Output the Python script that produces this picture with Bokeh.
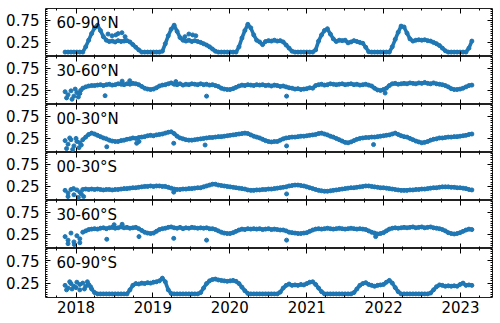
import pandas as pd
from bokeh.plotting import figure
from bokeh.layouts import column
from bokeh.models import (Range1d, FixedTicker, LinearAxis, DatetimeAxis, Label,
                          DatetimeTickFormatter)
from bokeh.embed import file_html
from bokeh.resources import INLINE

# ---------------- data ----------------
START = "2017-11-10"
STEP_DAYS = 14
REGIONS = ["60-90°N", "30-60°N", "00-30°N", "00-30°S", "30-60°S", "60-90°S"]

n60_90N = [0.03, 0.03, 0.03, 0.03, 0.03, 0.03, 0.03, 0.15, 0.30, 0.45, 0.58, 0.64, 0.52, 0.38, 0.30, 0.27, 0.28, 0.26, 0.29, 0.27,
           0.28, 0.29, 0.26, 0.20, 0.14, 0.08, 0.03, 0.03, 0.03, 0.03, 0.03, 0.03, 0.03, 0.05, 0.22, 0.40, 0.55, 0.64, 0.50, 0.36,
           0.30, 0.28, 0.30, 0.27, 0.29, 0.27, 0.25, 0.22, 0.19, 0.15, 0.10, 0.05, 0.03, 0.03, 0.03, 0.03, 0.03, 0.03, 0.03, 0.15,
           0.35, 0.52, 0.66, 0.58, 0.42, 0.30, 0.26, 0.20, 0.27, 0.29, 0.28, 0.30, 0.28, 0.29, 0.26, 0.19, 0.12, 0.05, 0.03, 0.03,
           0.03, 0.03, 0.03, 0.03, 0.03, 0.08, 0.28, 0.42, 0.52, 0.56, 0.44, 0.33, 0.27, 0.30, 0.29, 0.30, 0.24, 0.26, 0.29, 0.27,
           0.25, 0.23, 0.14, 0.04, 0.03, 0.03, 0.03, 0.03, 0.03, 0.03, 0.03, 0.15, 0.32, 0.48, 0.62, 0.60, 0.46, 0.33, 0.28, 0.30,
           0.31, 0.30, 0.31, 0.29, 0.28, 0.25, 0.22, 0.18, 0.12, 0.06, 0.03, 0.03, 0.03, 0.03, 0.03, 0.03, 0.03, 0.12, 0.28]
n30_60N = [0.22, 0.15, 0.24, 0.12, 0.20, 0.18, 0.30, 0.33, 0.35, 0.36, 0.36, 0.37, 0.38, 0.36, 0.38, 0.39, 0.37, 0.38, 0.40, 0.39,
           0.38, 0.40, 0.39, 0.41, 0.40, 0.38, 0.34, 0.30, 0.28, 0.27, 0.28, 0.31, 0.35, 0.37, 0.38, 0.40, 0.42, 0.39, 0.38, 0.40,
           0.37, 0.39, 0.38, 0.40, 0.39, 0.38, 0.40, 0.38, 0.39, 0.37, 0.38, 0.36, 0.34, 0.30, 0.28, 0.27, 0.27, 0.29, 0.32, 0.35,
           0.37, 0.36, 0.38, 0.37, 0.36, 0.38, 0.37, 0.38, 0.36, 0.37, 0.35, 0.37, 0.36, 0.34, 0.35, 0.33, 0.31, 0.30, 0.28, 0.29,
           0.27, 0.28, 0.29, 0.31, 0.30, 0.36, 0.38, 0.39, 0.37, 0.38, 0.40, 0.39, 0.38, 0.39, 0.40, 0.38, 0.39, 0.40, 0.38, 0.39,
           0.37, 0.38, 0.39, 0.37, 0.35, 0.30, 0.26, 0.25, 0.27, 0.30, 0.36, 0.40, 0.41, 0.39, 0.40, 0.41, 0.40, 0.42, 0.41, 0.40,
           0.42, 0.41, 0.43, 0.41, 0.40, 0.42, 0.40, 0.39, 0.38, 0.36, 0.33, 0.29, 0.27, 0.27, 0.28, 0.30, 0.33, 0.36, 0.37]
n00_30N = [0.20, 0.12, 0.22, 0.08, 0.18, 0.15, 0.22, 0.28, 0.34, 0.37, 0.35, 0.32, 0.29, 0.26, 0.24, 0.21, 0.19, 0.18, 0.18, 0.20,
           0.21, 0.23, 0.24, 0.26, 0.25, 0.27, 0.28, 0.29, 0.31, 0.32, 0.31, 0.33, 0.34, 0.35, 0.37, 0.39, 0.40, 0.36, 0.30, 0.26,
           0.24, 0.22, 0.21, 0.21, 0.22, 0.23, 0.24, 0.25, 0.26, 0.27, 0.27, 0.28, 0.29, 0.29, 0.30, 0.31, 0.32, 0.33, 0.34, 0.35,
           0.36, 0.37, 0.36, 0.33, 0.30, 0.28, 0.26, 0.23, 0.20, 0.18, 0.17, 0.18, 0.18, 0.21, 0.24, 0.26, 0.27, 0.28, 0.28, 0.29,
           0.30, 0.30, 0.31, 0.32, 0.33, 0.34, 0.36, 0.37, 0.35, 0.33, 0.30, 0.28, 0.25, 0.22, 0.19, 0.16, 0.15, 0.17, 0.20, 0.23,
           0.25, 0.26, 0.27, 0.27, 0.28, 0.28, 0.29, 0.30, 0.31, 0.32, 0.33, 0.35, 0.37, 0.34, 0.31, 0.29, 0.28, 0.25, 0.22, 0.19,
           0.17, 0.15, 0.16, 0.18, 0.21, 0.23, 0.24, 0.26, 0.26, 0.27, 0.28, 0.28, 0.29, 0.29, 0.30, 0.31, 0.32, 0.34, 0.35]
n00_30S = [0.16, 0.10, 0.18, 0.06, 0.17, 0.12, 0.18, 0.19, 0.18, 0.19, 0.18, 0.19, 0.18, 0.17, 0.18, 0.18, 0.17, 0.18, 0.18, 0.19,
           0.20, 0.20, 0.21, 0.22, 0.22, 0.23, 0.24, 0.25, 0.25, 0.26, 0.25, 0.26, 0.26, 0.25, 0.25, 0.23, 0.21, 0.19, 0.18, 0.18,
           0.19, 0.19, 0.20, 0.20, 0.21, 0.22, 0.22, 0.24, 0.26, 0.28, 0.30, 0.30, 0.28, 0.27, 0.26, 0.25, 0.24, 0.23, 0.22, 0.21,
           0.20, 0.19, 0.17, 0.16, 0.16, 0.17, 0.17, 0.18, 0.18, 0.19, 0.19, 0.20, 0.21, 0.22, 0.23, 0.24, 0.26, 0.27, 0.28, 0.28,
           0.27, 0.26, 0.24, 0.22, 0.20, 0.18, 0.16, 0.15, 0.14, 0.14, 0.15, 0.16, 0.17, 0.18, 0.19, 0.20, 0.21, 0.22, 0.22, 0.23,
           0.24, 0.25, 0.26, 0.26, 0.25, 0.24, 0.23, 0.22, 0.22, 0.21, 0.20, 0.19, 0.18, 0.17, 0.16, 0.16, 0.16, 0.17, 0.17, 0.18,
           0.18, 0.19, 0.19, 0.20, 0.21, 0.22, 0.22, 0.23, 0.24, 0.24, 0.24, 0.23, 0.23, 0.22, 0.22, 0.21, 0.20, 0.18, 0.17]
n30_60S = [0.20, 0.12, 0.28, 0.08, 0.22, 0.15, 0.30, 0.33, 0.36, 0.37, 0.38, 0.37, 0.39, 0.40, 0.38, 0.40, 0.41, 0.39, 0.40, 0.42,
           0.40, 0.41, 0.39, 0.40, 0.41, 0.38, 0.34, 0.30, 0.28, 0.27, 0.28, 0.32, 0.36, 0.38, 0.39, 0.41, 0.42, 0.40, 0.39, 0.41,
           0.38, 0.40, 0.39, 0.41, 0.40, 0.39, 0.40, 0.39, 0.40, 0.38, 0.38, 0.36, 0.33, 0.30, 0.28, 0.27, 0.27, 0.29, 0.32, 0.35,
           0.37, 0.36, 0.38, 0.37, 0.38, 0.37, 0.38, 0.36, 0.37, 0.38, 0.36, 0.37, 0.36, 0.35, 0.35, 0.33, 0.30, 0.29, 0.28, 0.27,
           0.27, 0.28, 0.29, 0.32, 0.35, 0.37, 0.38, 0.37, 0.38, 0.39, 0.38, 0.37, 0.38, 0.39, 0.38, 0.37, 0.38, 0.39, 0.38, 0.37,
           0.38, 0.37, 0.36, 0.33, 0.30, 0.28, 0.26, 0.27, 0.29, 0.33, 0.37, 0.39, 0.40, 0.39, 0.40, 0.41, 0.40, 0.41, 0.42, 0.40,
           0.41, 0.42, 0.40, 0.41, 0.42, 0.40, 0.39, 0.38, 0.36, 0.33, 0.29, 0.27, 0.26, 0.27, 0.29, 0.32, 0.35, 0.37, 0.36]
n60_90S = [0.20, 0.14, 0.24, 0.18, 0.27, 0.10, 0.25, 0.18, 0.22, 0.12, 0.04, 0.01, 0.01, 0.01, 0.01, 0.01, 0.01, 0.01, 0.01, 0.01,
           0.01, 0.01, 0.10, 0.20, 0.24, 0.23, 0.25, 0.24, 0.26, 0.25, 0.27, 0.28, 0.30, 0.36, 0.28, 0.10, 0.02, 0.01, 0.01, 0.01,
           0.01, 0.01, 0.01, 0.01, 0.01, 0.01, 0.04, 0.14, 0.24, 0.30, 0.33, 0.34, 0.32, 0.31, 0.30, 0.29, 0.30, 0.31, 0.29, 0.24,
           0.16, 0.08, 0.02, 0.01, 0.01, 0.01, 0.01, 0.01, 0.01, 0.01, 0.01, 0.01, 0.01, 0.05, 0.14, 0.20, 0.23, 0.20, 0.21, 0.20,
           0.22, 0.21, 0.24, 0.27, 0.28, 0.22, 0.14, 0.06, 0.01, 0.01, 0.01, 0.01, 0.01, 0.01, 0.01, 0.01, 0.01, 0.01, 0.04, 0.12,
           0.20, 0.24, 0.26, 0.22, 0.20, 0.18, 0.20, 0.21, 0.22, 0.27, 0.31, 0.25, 0.15, 0.06, 0.01, 0.01, 0.01, 0.01, 0.01, 0.01,
           0.01, 0.01, 0.01, 0.01, 0.03, 0.10, 0.17, 0.21, 0.20, 0.18, 0.19, 0.18, 0.19, 0.18, 0.22, 0.25, 0.20, 0.21, 0.20]
SERIES = [n60_90N, n30_60N, n00_30N, n00_30S, n30_60S, n60_90S]
# first index from which the band is continuous (earlier values are a scattered cluster)
BAND_FROM = [0, 6, 6, 6, 6, 9]

# isolated points off the main band
extra_dates = [
    ["2018-06-02", "2018-06-21", "2018-07-09", "2018-07-20", "2018-08-07", "2018-08-22",
     "2019-06-02", "2019-06-21", "2019-07-09", "2019-07-24"],
    ["2017-11-17", "2017-12-13", "2017-12-28", "2018-01-12", "2018-01-23", "2018-05-19",
     "2019-09-13", "2020-09-27", "2022-01-08", "2018-08-08", "2018-09-13", "2019-04-20"],
    ["2017-11-17", "2017-12-02", "2017-12-16", "2018-01-01", "2018-01-15", "2018-01-26",
     "2018-05-27", "2018-10-16", "2018-10-27", "2019-04-10", "2019-09-06", "2020-09-27", "2021-11-14"],
    ["2017-11-24", "2017-12-20", "2018-01-12", "2018-01-26", "2018-02-06", "2019-04-10", "2020-09-27"],
    ["2017-11-24", "2017-12-24", "2018-01-19", "2018-05-27", "2018-10-27", "2019-04-10",
     "2019-09-13", "2020-09-27", "2021-11-24", "2018-07-01", "2018-08-08"],
    ["2017-11-17", "2017-12-02", "2017-12-13", "2018-01-01", "2018-01-19", "2018-02-10",
     "2018-02-24", "2018-03-11"],
]
extra_values = [
    [0.44, 0.40, 0.42, 0.45, 0.47, 0.38, 0.38, 0.44, 0.42, 0.40],
    [0.08, 0.05, 0.28, 0.10, 0.25, 0.13, 0.12, 0.12, 0.19, 0.46, 0.47, 0.45],
    [0.02, 0.26, 0.00, 0.25, 0.04, 0.10, 0.06, 0.14, 0.18, 0.14, 0.10, 0.08, 0.11],
    [0.02, 0.20, 0.00, 0.08, 0.02, 0.12, 0.08],
    [0.04, 0.02, 0.06, 0.14, 0.20, 0.16, 0.12, 0.12, 0.20, 0.47, 0.48],
    [0.10, 0.28, 0.12, 0.15, 0.22, 0.12, 0.28, 0.17],
]

TICK_YEARS = [2018, 2019, 2020, 2021, 2022, 2023]
Y_TICKS = [0.25, 0.75]

# ---------------- figure ----------------
BLUE = "#1f77b4"
FONT = "DejaVu Sans"

dates = pd.date_range(START, periods=len(n60_90N), freq=f"{STEP_DAYS}D")


def ms(s):
    return pd.Timestamp(s).value // 10**6


x_major = [ms(f"{y}-01-01") for y in TICK_YEARS]
x_minor = [ms(d) for d in pd.date_range("2017-10-01", "2023-04-01", freq="QS")]
y_minor = [round(-0.05 + 0.05 * k, 2) for k in range(22)]

xr = Range1d(start=pd.Timestamp("2017-08-09"), end=pd.Timestamp("2023-06-02"))
fmt = DatetimeTickFormatter(years="%Y", months="%Y", days="%Y", hours="%Y",
                            minutes="%Y", seconds="%Y", milliseconds="%Y",
                            microseconds="%Y", minsec="%Y", hourmin="%Y")


def style_axis(ax, show_labels, standoff=6):
    ax.major_tick_in = 5
    ax.major_tick_out = 0
    ax.minor_tick_in = 2
    ax.minor_tick_out = 0
    ax.axis_line_color = None
    ax.major_tick_line_color = "black"
    ax.minor_tick_line_color = "black"
    ax.major_label_text_font = FONT
    if show_labels:
        ax.major_label_text_color = "black"
        ax.major_label_text_font_size = "15px"
        ax.major_label_standoff = standoff
    else:
        ax.major_label_text_color = None
        ax.major_label_text_font_size = "1px"
        ax.major_label_standoff = 0


PANEL_H = [48, 48, 48, 48, 48, 49]
TOP_PAD = 8
BOTTOM_H = 26
LEFT_B = 45
RIGHT_B = 8
figs = []
nP = len(SERIES)
for i, (name, vals) in enumerate(zip(REGIONS, SERIES)):
    last = i == nP - 1
    first = i == 0
    h = PANEL_H[i] + (BOTTOM_H if last else 0) + (TOP_PAD if first else 0)
    p = figure(width=500, height=h,
               x_axis_type="datetime",
               x_range=xr, y_range=Range1d(-0.07, 1.02),
               output_backend="svg", toolbar_location=None,
               min_border_left=LEFT_B, min_border_right=RIGHT_B,
               min_border_top=TOP_PAD if first else 0,
               min_border_bottom=BOTTOM_H if last else 0)
    p.background_fill_color = "white"
    p.border_fill_color = "white"
    p.outline_line_color = "#222222"
    p.outline_line_width = 1
    p.xgrid.visible = False
    p.ygrid.visible = False

    xt = FixedTicker(ticks=x_major, minor_ticks=x_minor)
    yt = FixedTicker(ticks=Y_TICKS, minor_ticks=y_minor)

    p.xaxis[0].ticker = xt
    p.xaxis[0].formatter = fmt
    style_axis(p.xaxis[0], last, standoff=3)
    p.yaxis[0].ticker = yt
    style_axis(p.yaxis[0], True, standoff=6)

    top = DatetimeAxis(ticker=xt, formatter=fmt)
    style_axis(top, False)
    p.add_layout(top, "above")
    right = LinearAxis(ticker=yt)
    style_axis(right, False)
    p.add_layout(right, "right")

    b = BAND_FROM[i]
    p.line(dates[b:], vals[b:], line_width=3.6, color=BLUE, line_join="round", line_cap="round")
    p.scatter(dates, vals, size=4.0, color=BLUE)
    p.scatter(pd.to_datetime(extra_dates[i]), extra_values[i], size=4.0, color=BLUE)

    p.add_layout(Label(x=11, y=PANEL_H[i] - 14.5, x_units="screen", y_units="screen", text=name,
                       text_font=FONT, text_font_size="15px", text_color="black",
                       text_baseline="alphabetic"))
    figs.append(p)

layout = column(*figs, spacing=0)
open("out.html", "w").write(file_html(layout, INLINE))
